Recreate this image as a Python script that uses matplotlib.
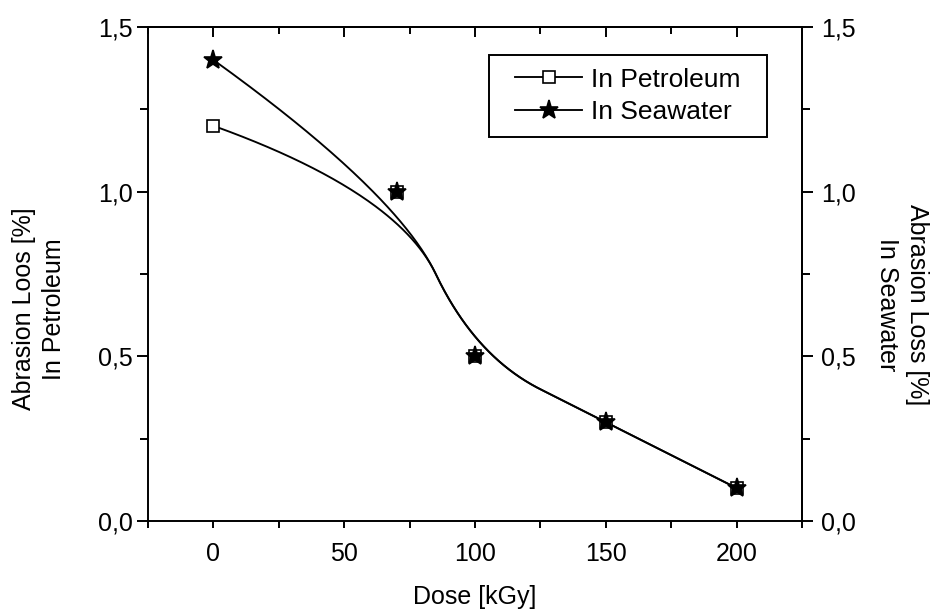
import numpy as np
import matplotlib
matplotlib.use("Agg")
import matplotlib.pyplot as plt
from matplotlib.ticker import MultipleLocator, FuncFormatter
from matplotlib.path import Path

dose = [0, 70, 100, 150, 200]
petroleum = [1.2, 1.0, 0.5, 0.3, 0.1]
seawater = [1.4, 1.0, 0.5, 0.3, 0.1]
labels = ["In Petroleum", "In Seawater"]
xticks = [0, 50, 100, 150, 200]
yticks = [0.0, 0.5, 1.0, 1.5]


def bspline(xs, ys, n=400, k=2):
    # clamped B-spline using the data points as control points (Origin "B-Spline" connect)
    P = np.column_stack([xs, ys]).astype(float)
    m = len(P)
    inner = np.linspace(0, 1, m - k + 1)[1:-1]
    t = np.concatenate([np.zeros(k + 1), inner, np.ones(k + 1)])
    out = []
    for u in np.linspace(0, 1, n):
        if u >= 1.0:
            out.append(P[-1]); continue
        N = np.array([1.0 if t[i] <= u < t[i + 1] else 0.0 for i in range(len(t) - 1)])
        for d in range(1, k + 1):
            Nn = np.zeros(len(t) - 1 - d)
            for i in range(len(Nn)):
                a = 0.0
                if t[i + d] - t[i] > 0:
                    a += (u - t[i]) / (t[i + d] - t[i]) * N[i]
                if t[i + d + 1] - t[i + 1] > 0:
                    a += (t[i + d + 1] - u) / (t[i + d + 1] - t[i + 1]) * N[i + 1]
                Nn[i] = a
            N = Nn
        out.append(N @ P)
    out = np.array(out)
    return out[:, 0], out[:, 1]


plt.rcParams['font.family'] = ['Liberation Sans', 'DejaVu Sans']
fs = 18
lw_axis = 1.4

fig = plt.figure(figsize=(9.3, 6.1), dpi=100)
ax = fig.add_axes([148 / 930, 89 / 610, 654 / 930, 494 / 610])

for ys, mk, face, ms, lab in [(petroleum, 's', 'white', 9, labels[0]),
                               (seawater, '*', 'black', 14, labels[1])]:
    cx, cy = bspline(dose, ys)
    ax.plot(cx, cy, color='black', lw=1.35, zorder=2)
    ax.plot(dose, ys, linestyle='none', marker=mk, markersize=ms,
            markerfacecolor=face, markeredgecolor='black', markeredgewidth=1.2, zorder=3)
    ax.plot([], [], color='black', lw=1.35, marker=mk, markersize=ms,
            markerfacecolor=face, markeredgecolor='black', markeredgewidth=1.2, label=lab)

ax.set_xlim(-25, 225)
ax.set_ylim(0, 1.5)

comma = FuncFormatter(lambda v, p: f"{v:.1f}".replace('.', ','))
ax.set_xticks(xticks)
ax.xaxis.set_minor_locator(MultipleLocator(25))
ax.set_yticks(yticks)
ax.yaxis.set_minor_locator(MultipleLocator(0.25))
ax.yaxis.set_major_formatter(comma)

for s in ax.spines.values():
    s.set_linewidth(lw_axis)

ax.tick_params(axis='x', which='both', direction='out', length=4.7, width=lw_axis,
               labelsize=fs, pad=10.3, top=False)
ax.tick_params(axis='y', which='major', direction='out', length=8, width=lw_axis,
               labelsize=fs, left=True, right=False, labelright=False, pad=3)
ax.tick_params(axis='y', which='minor', direction='out', length=5.5, width=lw_axis,
               left=True, right=False)

# top axis: ticks pointing inward, no labels
top = ax.secondary_xaxis('top')
top.set_xticks(xticks)
top.xaxis.set_minor_locator(MultipleLocator(25))
top.tick_params(axis='x', which='major', direction='in', length=7.5, width=lw_axis, labeltop=False)
top.tick_params(axis='x', which='minor', direction='in', length=5, width=lw_axis)
top.spines['top'].set_linewidth(lw_axis)

# right axis: ticks outward with labels
right = ax.secondary_yaxis('right')
right.set_yticks(yticks)
right.yaxis.set_minor_locator(MultipleLocator(0.25))
right.yaxis.set_major_formatter(comma)
right.tick_params(axis='y', which='major', direction='out', length=8, width=lw_axis,
                  labelsize=fs, pad=5.8)
right.tick_params(axis='y', which='minor', direction='out', length=5.5, width=lw_axis)
right.spines['right'].set_linewidth(lw_axis)

fig.text(475 / 930, 6 / 610, "Dose [kGy]", fontsize=fs, ha='center', va='baseline')
fig.text(39 / 930, 301 / 610, "Abrasion Loos [%]\nIn Petroleum", fontsize=fs,
         rotation=90, ha='center', va='center', linespacing=1.32, rotation_mode='anchor',
         multialignment='center')
fig.text(902 / 930, 305 / 610, "Abrasion Loss [%]\nIn Seawater", fontsize=fs,
         rotation=270, ha='center', va='center', linespacing=1.32, rotation_mode='anchor',
         multialignment='center')

leg = ax.legend(loc='upper right', bbox_to_anchor=(0.9258, 0.9433), fontsize=19,
                frameon=True, fancybox=False, edgecolor='black', handlelength=2.54,
                borderpad=0.48, labelspacing=0.31, handletextpad=0.34, borderaxespad=0,
                numpoints=1)
frame = leg.get_frame()
frame.set_linewidth(lw_axis)
frame.set_alpha(None)
frame.set_facecolor('white')


def wide_box(x0, y0, width, height, mutation_size, *args):
    dx = 13.5
    return Path([(x0 - dx, y0), (x0 + width + dx, y0), (x0 + width + dx, y0 + height),
                 (x0 - dx, y0 + height), (x0 - dx, y0)], closed=True)


frame.set_boxstyle(wide_box)

fig.savefig("out.png", dpi=100)
